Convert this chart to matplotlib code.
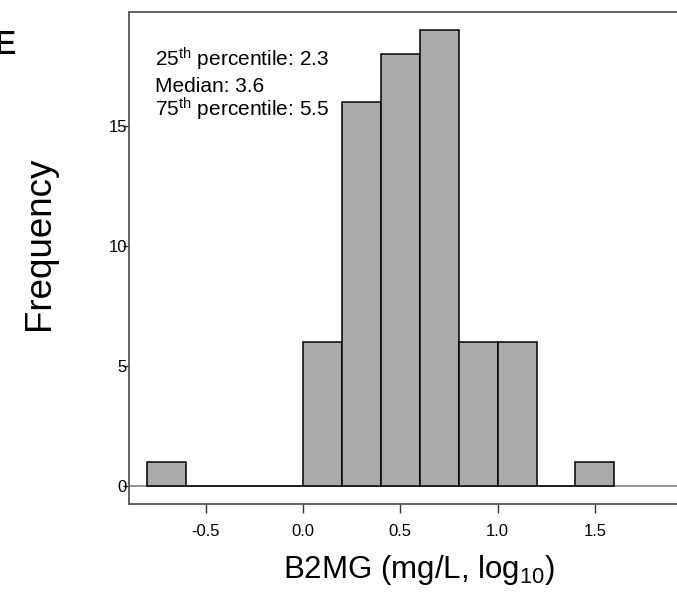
import numpy as np
import matplotlib
matplotlib.use("Agg")
import matplotlib.pyplot as plt

plt.rcParams['font.family'] = ['Liberation Sans', 'DejaVu Sans']
plt.rcParams['mathtext.fontset'] = 'custom'
plt.rcParams['mathtext.rm'] = 'Liberation Sans'
plt.rcParams['mathtext.it'] = 'Liberation Sans'

# histogram of log10 B2MG
bin_edges = [-0.8, -0.6, -0.4, -0.2, 0.0, 0.2, 0.4, 0.6, 0.8, 1.0, 1.2, 1.4, 1.6]
counts = [1, 0, 0, 0, 6, 16, 18, 19, 6, 6, 0, 1]
x_ticks = [-0.5, 0.0, 0.5, 1.0, 1.5]
x_ticklabels = ["-0.5", "0.0", "0.5", "1.0", "1.5"]
y_ticks = [0, 5, 10, 15]
stats_lines = ["25$^{\\mathrm{th}}$ percentile: 2.3",
               "Median: 3.6",
               "75$^{\\mathrm{th}}$ percentile: 5.5"]

W, H = 677, 604
fig = plt.figure(figsize=(W / 100, H / 100), dpi=100)
ax = fig.add_axes([129 / W, 1 - 504 / H, (679 - 129) / W, (504 - 12) / H])

ax.axhline(0, color="#808080", lw=1.2, zorder=1)
lefts = np.array(bin_edges[:-1])
widths = np.diff(bin_edges)
ax.bar(lefts, counts, width=widths, align="edge", color="#aaaaaa",
       edgecolor="black", linewidth=1.1, zorder=2)

ax.set_xlim(-0.894, 1.932)
ax.set_ylim(-0.75, 19.75)
ax.set_xticks(x_ticks)
ax.set_xticklabels(x_ticklabels)
ax.set_yticks(y_ticks)

for s in ax.spines.values():
    s.set_color("#555555")
    s.set_linewidth(1.3)
ax.spines["right"].set_visible(False)

ax.tick_params(axis="x", direction="out", length=6.5, width=1, color="#333333",
               labelsize=12, pad=8)
ax.tick_params(axis="y", direction="out", length=4.5, width=1, color="#333333",
               labelsize=12, pad=-3)

fig.text(419 / W, 1 - 578 / H, "B2MG (mg/L, log$_{10}$)", fontsize=22.5,
         ha="center", va="baseline")
fig.text(40 / W, 1 - 243 / H, "Frequency", fontsize=26.5, rotation=90,
         ha="center", va="center")

baselines = [66.7, 92.2, 116.7]
for txt, yb in zip(stats_lines, baselines):
    fig.text(155 / W, 1 - yb / H, txt, fontsize=15, va="baseline", ha="left")

# panel letter, cut off at the left edge like the source figure
fig.text(16 / W, 1 - 54 / H, "E", fontsize=24, fontweight="bold",
         ha="right", va="baseline")

fig.savefig("out.png", dpi=100)
